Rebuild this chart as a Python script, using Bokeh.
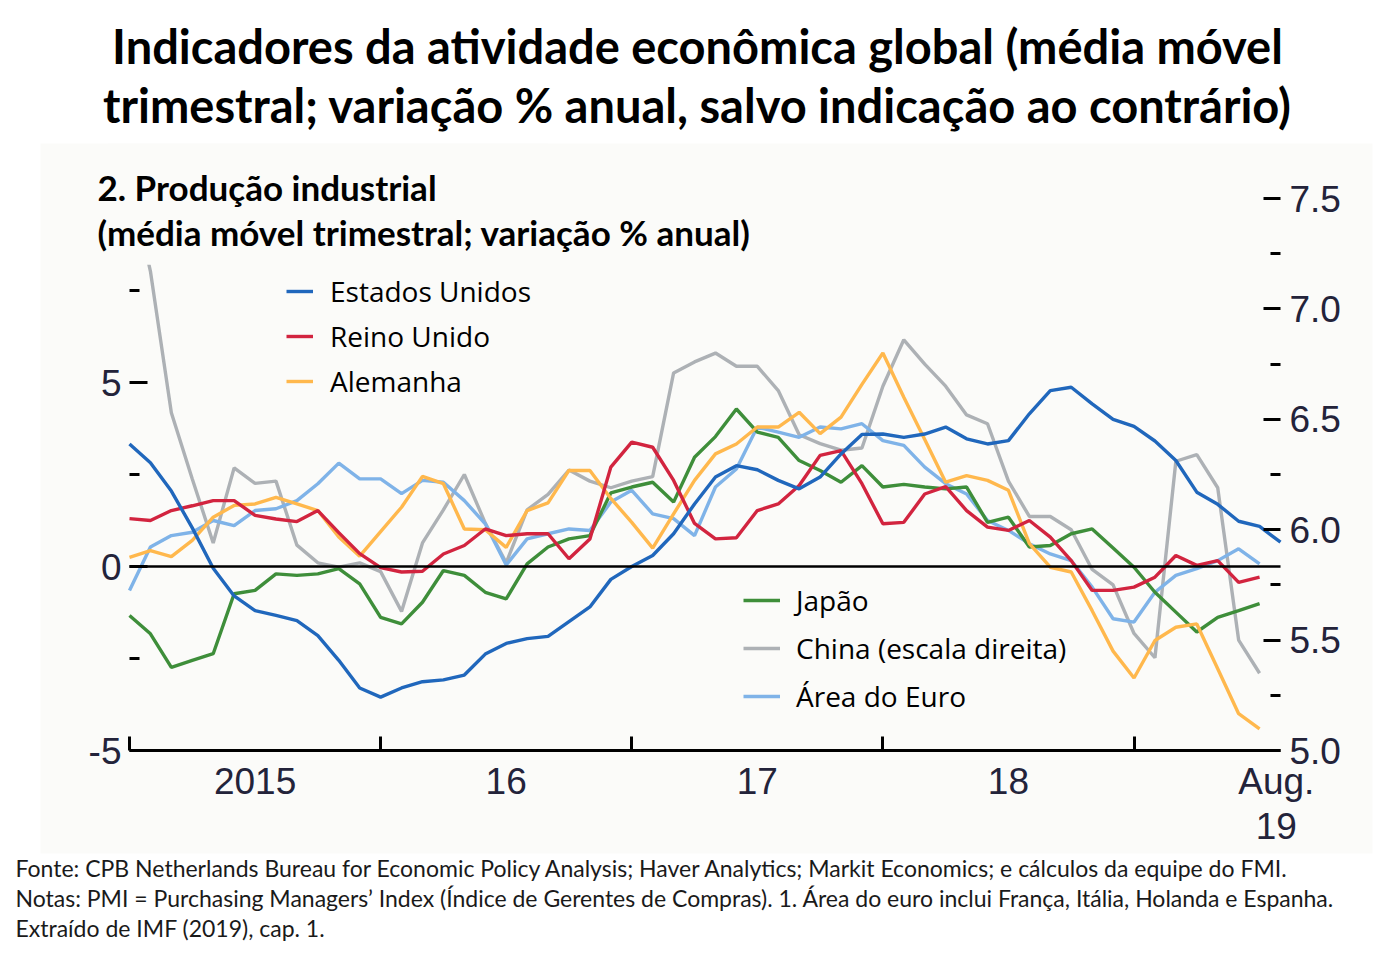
from bokeh.plotting import figure
from bokeh.models import (Range1d, LinearAxis, FixedTicker, Label, Legend,
                          LegendItem, BoxAnnotation, PrintfTickFormatter)
from bokeh.embed import file_html
from bokeh.resources import INLINE

# ---------------- data (monthly, Jan 2015 = 0) ----------------
months = list(range(55))        # Jan 2015 .. Jul 2019
months_us = list(range(56))     # Jan 2015 .. Aug 2019

estados_unidos = [3.33, 2.82, 2.05, 1.05, -0.05, -0.80, -1.20, -1.33, -1.47, -1.88,
                  -2.55, -3.30, -3.55, -3.30, -3.13, -3.08, -2.95, -2.38, -2.09, -1.96,
                  -1.90, -1.50, -1.10, -0.35, 0.00, 0.30, 0.89, 1.70, 2.43, 2.74,
                  2.63, 2.34, 2.11, 2.43, 3.06, 3.59, 3.60, 3.51, 3.60, 3.79,
                  3.47, 3.33, 3.42, 4.15, 4.78, 4.87, 4.42, 4.00, 3.81, 3.41,
                  2.88, 2.02, 1.69, 1.23, 1.09, 0.66]
reino_unido = [1.30, 1.25, 1.52, 1.65, 1.79, 1.79, 1.39, 1.29, 1.22, 1.52,
               0.92, 0.35, -0.03, -0.15, -0.13, 0.34, 0.57, 1.02, 0.84, 0.89,
               0.89, 0.21, 0.75, 2.70, 3.38, 3.24, 2.34, 1.17, 0.75, 0.78,
               1.52, 1.70, 2.20, 3.02, 3.15, 2.25, 1.16, 1.20, 1.97, 2.17,
               1.52, 1.07, 0.98, 1.25, 0.80, 0.16, -0.65, -0.65, -0.56, -0.29,
               0.30, 0.03, 0.16, -0.43, -0.29]
alemanha = [0.25, 0.43, 0.27, 0.71, 1.34, 1.66, 1.70, 1.88, 1.70, 1.52,
            0.80, 0.28, 0.95, 1.61, 2.45, 2.25, 1.02, 1.00, 0.52, 1.52,
            1.73, 2.61, 2.61, 1.85, 1.20, 0.50, 1.43, 2.34, 3.06, 3.33,
            3.79, 3.79, 4.19, 3.61, 4.06, 4.95, 5.80, 4.60, 3.45, 2.29,
            2.47, 2.34, 2.07, 0.62, -0.02, -0.15, -1.20, -2.30, -3.03, -2.01,
            -1.65, -1.56, -2.78, -4.00, -4.41]
japao = [-1.33, -1.83, -2.74, -2.55, -2.37, -0.74, -0.65, -0.20, -0.24, -0.20,
         -0.06, -0.47, -1.38, -1.56, -0.97, -0.11, -0.24, -0.70, -0.88, 0.07,
         0.53, 0.75, 0.84, 2.00, 2.16, 2.29, 1.75, 2.97, 3.53, 4.28,
         3.65, 3.51, 2.88, 2.61, 2.29, 2.74, 2.16, 2.23, 2.16, 2.11,
         2.16, 1.20, 1.34, 0.53, 0.57, 0.89, 1.02, 0.50, -0.02, -0.70,
         -1.24, -1.78, -1.38, -1.20, -1.01]
china = [7.60, 7.17, 6.53, 6.23, 5.94, 6.28, 6.21, 6.22, 5.93, 5.85,
         5.83, 5.85, 5.81, 5.63, 5.94, 6.09, 6.25, 6.03, 5.85, 6.09,
         6.16, 6.27, 6.22, 6.19, 6.22, 6.24, 6.71, 6.76, 6.80, 6.74,
         6.74, 6.63, 6.43, 6.39, 6.36, 6.37, 6.65, 6.86, 6.75, 6.65,
         6.52, 6.48, 6.22, 6.06, 6.06, 6.00, 5.82, 5.75, 5.53, 5.42,
         6.31, 6.34, 6.19, 5.50, 5.35]
area_euro = [-0.65, 0.53, 0.84, 0.93, 1.25, 1.11, 1.52, 1.57, 1.79, 2.25,
             2.81, 2.38, 2.38, 1.98, 2.34, 2.29, 1.79, 1.16, 0.04, 0.75,
             0.89, 1.02, 0.98, 1.75, 2.07, 1.43, 1.30, 0.84, 2.16, 2.65,
             3.79, 3.65, 3.51, 3.79, 3.74, 3.88, 3.42, 3.29, 2.70, 2.25,
             1.97, 1.25, 0.98, 0.62, 0.34, 0.16, -0.56, -1.42, -1.51, -0.70,
             -0.24, -0.06, 0.16, 0.48, 0.07]

year_bounds = [0, 12, 24, 36, 48]
year_label_pos = [6, 18, 30, 42, 54.8]
year_labels = ["2015", "16", "17", "18", "Aug.\n19"]
left_ticks = [-5, 0, 5]
left_minor = [-2.5, 2.5, 7.5]
right_ticks = [5.0, 5.5, 6.0, 6.5, 7.0, 7.5]
right_minor = [5.25, 5.75, 6.25, 6.75, 7.25]

title_lines = ["Indicadores da atividade econômica global (média móvel",
               "trimestral; variação % anual, salvo indicação ao contrário)"]
subtitle_lines = ["2. Produção industrial",
                  "(média móvel trimestral; variação % anual)"]
footer_lines = [
    "Fonte: CPB Netherlands Bureau for Economic Policy Analysis; Haver Analytics; Markit Economics; e cálculos da equipe do FMI.",
    "Notas: PMI = Purchasing Managers’ Index (Índice de Gerentes de Compras). 1. Área do euro inclui França, Itália, Holanda e Espanha.",
    "Extraído de IMF (2019), cap. 1.",
]

# ---------------- figure (frame covers the whole canvas) ----------------
W, H = 1379, 943
PX_MONTH = (1280 - 129) / 55.0
PX_UNIT = 36.8
ZERO_Y = 566.0
x0 = -129 / PX_MONTH
x1 = 55 + (W - 1280) / PX_MONTH
y_top = ZERO_Y / PX_UNIT
y_bot = -(H - ZERO_Y) / PX_UNIT

p = figure(width=W, height=H, output_backend="svg", toolbar_location=None,
           x_range=Range1d(x0, x1), y_range=Range1d(y_bot, y_top),
           min_border=0, min_border_left=0, min_border_right=0,
           min_border_top=0, min_border_bottom=0)
p.extra_y_ranges = {"china": Range1d(5 + (y_bot + 5) / 6, 5 + (y_top + 5) / 6)}
p.background_fill_color = "white"
p.border_fill_color = "white"
p.outline_line_color = None
p.xgrid.visible = False
p.ygrid.visible = False

TICK_FONT = "Liberation Sans"
TICK_COLOR = "#23233a"
TINT = "#fbfbf9"
TINT_TOP = 143

# light tint of the embedded chart picture
p.add_layout(BoxAnnotation(left=40, right=1372, top=H - TINT_TOP, bottom=H - 853,
                           left_units="screen", right_units="screen",
                           top_units="screen", bottom_units="screen",
                           fill_color=TINT, fill_alpha=1.0, line_color=None,
                           level="underlay"))

# bottom axis
xa = p.xaxis[0]
xa.fixed_location = -5
xa.bounds = (0, 55)
xa.ticker = FixedTicker(ticks=year_label_pos, minor_ticks=year_bounds)
xa.major_label_overrides = {k: v for k, v in zip(year_label_pos, year_labels)}
xa.major_tick_in = 0
xa.major_tick_out = 0
xa.minor_tick_in = 14
xa.minor_tick_out = 0
xa.minor_tick_line_width = 3
xa.minor_tick_line_color = "black"
xa.axis_line_width = 3
xa.axis_line_color = "black"
xa.major_label_text_font = TICK_FONT
xa.major_label_text_font_size = "37px"
xa.major_label_text_color = TICK_COLOR
xa.major_label_text_line_height = 1.1
xa.major_label_standoff = 10

# zero line (an unlabeled axis at y = 0, limited to the plotted months)
zero_axis = LinearAxis(fixed_location=0, bounds=(0, 55), ticker=FixedTicker(ticks=[]),
                       major_tick_line_color=None, minor_tick_line_color=None,
                       major_label_text_font_size="0px",
                       axis_line_color="black", axis_line_width=2.5)
p.add_layout(zero_axis, "below")

# left axis
ya = p.yaxis[0]
ya.fixed_location = 0
ya.bounds = (-5, 7.5)
ya.ticker = FixedTicker(ticks=left_ticks, minor_ticks=left_minor)
ya.major_label_overrides = {-5: "-5"}
ya.axis_line_color = None
ya.major_tick_in = 18
ya.major_tick_out = 0
ya.minor_tick_in = 10
ya.minor_tick_out = 0
ya.major_tick_line_width = 3
ya.minor_tick_line_width = 3
ya.major_tick_line_color = "black"
ya.minor_tick_line_color = "black"
ya.major_label_text_font = TICK_FONT
ya.major_label_text_font_size = "37px"
ya.major_label_text_color = TICK_COLOR
ya.major_label_standoff = 8

# right axis (China)
ra = LinearAxis(y_range_name="china", fixed_location=55, bounds=(5, 7.5),
                ticker=FixedTicker(ticks=right_ticks, minor_ticks=right_minor),
                formatter=PrintfTickFormatter(format="%.1f"))
ra.axis_line_color = None
ra.major_tick_in = 17
ra.major_tick_out = 0
ra.minor_tick_in = 10
ra.minor_tick_out = 0
ra.major_tick_line_width = 3
ra.minor_tick_line_width = 3
ra.major_tick_line_color = "black"
ra.minor_tick_line_color = "black"
ra.major_label_text_font = TICK_FONT
ra.major_label_text_font_size = "37px"
ra.major_label_text_color = TICK_COLOR
ra.major_label_standoff = 9
p.add_layout(ra, "right")

# ---------------- lines ----------------
LW = 3.4
r_cn = p.line(months, china, y_range_name="china", line_color="#adb1b5", line_width=LW)
r_eu = p.line(months, area_euro, line_color="#7fb3e8", line_width=LW)
r_jp = p.line(months, japao, line_color="#3e8e3a", line_width=LW)
r_de = p.line(months, alemanha, line_color="#ffb84d", line_width=LW)
r_uk = p.line(months, reino_unido, line_color="#d2243f", line_width=LW)
r_us = p.line(months_us, estados_unidos, line_color="#2067bc", line_width=LW)

# mask where the original subtitle box hides the top of the China line
p.add_layout(BoxAnnotation(left=-1, right=20, bottom=8.2, top=(ZERO_Y - TINT_TOP) / PX_UNIT,
                           fill_color=TINT, fill_alpha=1.0, line_color=None))

# ---------------- legends ----------------
leg1 = Legend(items=[LegendItem(label="Estados Unidos", renderers=[r_us]),
                     LegendItem(label="Reino Unido", renderers=[r_uk]),
                     LegendItem(label="Alemanha", renderers=[r_de])],
              location=(286, H - 400), orientation="vertical",
              glyph_width=27, glyph_height=20, label_standoff=17, spacing=7,
              padding=0, margin=0, border_line_color=None, background_fill_alpha=0,
              label_text_font="Open Sans", label_text_font_size="28px",
              label_text_color="black")
leg2 = Legend(items=[LegendItem(label="Japão", renderers=[r_jp]),
                     LegendItem(label="China (escala direita)", renderers=[r_cn]),
                     LegendItem(label="Área do Euro", renderers=[r_eu])],
              location=(743, H - 715), orientation="vertical",
              glyph_width=37, glyph_height=20, label_standoff=16, spacing=10,
              padding=0, margin=0, border_line_color=None, background_fill_alpha=0,
              label_text_font="Open Sans", label_text_font_size="28px",
              label_text_color="black")
p.add_layout(leg1)
p.add_layout(leg2)

# ---------------- texts ----------------
for txt, yb in zip(title_lines, [45, 104]):
    p.add_layout(Label(x=697, y=H - yb, x_units="screen", y_units="screen", text=txt,
                       text_font="Lato", text_font_style="bold", text_font_size="47px",
                       text_align="center", text_baseline="alphabetic", text_color="black"))
for txt, yb in zip(subtitle_lines, [186, 231]):
    p.add_layout(Label(x=97, y=H - yb, x_units="screen", y_units="screen", text=txt,
                       text_font="Lato", text_font_style="bold", text_font_size="35px",
                       text_align="left", text_baseline="alphabetic", text_color="black"))
for txt, yb in zip(footer_lines, [867, 897, 927]):
    p.add_layout(Label(x=15, y=H - yb, x_units="screen", y_units="screen", text=txt,
                       text_font="Lato", text_font_size="23px",
                       text_align="left", text_baseline="alphabetic", text_color="#1a1a1a"))

open("out.html", "w").write(file_html(p, INLINE))
